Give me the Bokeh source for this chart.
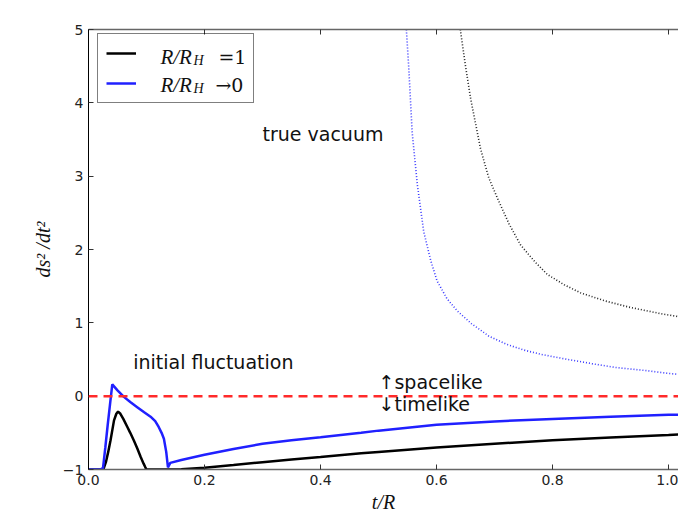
from bokeh.plotting import figure
from bokeh.models import (Range1d, LinearAxis, FixedTicker, Span, Label, Legend, LegendItem)
from bokeh.embed import file_html
from bokeh.resources import INLINE

# ---- data ----
# solid black: R/R_H = 1
t_black = [0.0, 0.020, 0.026, 0.030, 0.034, 0.038, 0.044, 0.048, 0.051, 0.055, 0.060, 0.067,
           0.072, 0.078, 0.084, 0.090, 0.095, 0.098, 0.100, 0.120, 0.140, 0.160, 0.200, 0.250,
           0.300, 0.350, 0.400, 0.470, 0.500, 0.600, 0.700, 0.800, 0.900, 1.000, 1.050]
v_black = [-1.0, -1.0, -0.99, -0.90, -0.76, -0.60, -0.33, -0.24, -0.21, -0.24, -0.31, -0.42,
           -0.50, -0.60, -0.71, -0.83, -0.92, -0.97, -1.0, -1.0, -1.0, -0.995, -0.975, -0.94,
           -0.90, -0.865, -0.83, -0.78, -0.76, -0.70, -0.65, -0.60, -0.565, -0.53, -0.51]

# solid blue: R/R_H -> 0
t_blue = [0.0, 0.020, 0.025, 0.029, 0.033, 0.037, 0.041, 0.050, 0.061, 0.072, 0.084, 0.096,
          0.107, 0.115, 0.121, 0.126, 0.130, 0.134, 0.137, 0.141, 0.160, 0.200, 0.250, 0.300,
          0.350, 0.400, 0.470, 0.500, 0.600, 0.700, 0.800, 0.900, 1.000, 1.050]
v_blue = [-1.0, -1.0, -0.98, -0.70, -0.40, -0.12, 0.16, 0.08, -0.01, -0.08, -0.15, -0.22,
          -0.28, -0.34, -0.42, -0.50, -0.58, -0.76, -0.97, -0.91, -0.87, -0.80, -0.72, -0.65,
          -0.60, -0.56, -0.50, -0.47, -0.39, -0.345, -0.31, -0.28, -0.255, -0.245]

# dotted blue (true vacuum, R/R_H -> 0)
t_blue_vac = [0.548, 0.552, 0.558, 0.567, 0.578, 0.590, 0.601, 0.618, 0.636, 0.660, 0.690,
              0.720, 0.750, 0.780, 0.820, 0.870, 0.910, 0.960, 1.000, 1.045]
v_blue_vac = [5.0, 4.5, 3.6, 2.88, 2.24, 1.85, 1.57, 1.33, 1.16, 0.99, 0.82,
              0.71, 0.63, 0.57, 0.51, 0.44, 0.39, 0.35, 0.31, 0.28]

# dotted black (true vacuum, R/R_H = 1)
t_black_vac = [0.641, 0.650, 0.659, 0.676, 0.690, 0.705, 0.725, 0.745, 0.770, 0.791, 0.820,
               0.848, 0.890, 0.934, 0.990, 1.045]
v_black_vac = [5.0, 4.5, 4.05, 3.37, 2.98, 2.70, 2.35, 2.06, 1.83, 1.66, 1.52,
               1.41, 1.30, 1.21, 1.12, 1.05]

ref_level = 0.0

x_ticks = [0.0, 0.2, 0.4, 0.6, 0.8, 1.0]
x_tick_labels = ["0.0", "0.2", "0.4", "0.6", "0.8", "1.0"]
y_ticks = [-1, 0, 1, 2, 3, 4, 5]
y_tick_labels = ["\u22121", "0", "1", "2", "3", "4", "5"]

legend_labels = [("R/R", "H", "=1"), ("R/R", "H", "\u21920")]

# ---- figure ----
p = figure(width=678, height=515, output_backend="svg", toolbar_location=None,
           x_range=Range1d(0.0, 1.0172), y_range=Range1d(-1.0, 5.0),
           min_border_left=88, min_border_right=0, min_border_top=29, min_border_bottom=43,
           background_fill_color="white", border_fill_color="white")
p.outline_line_color = None
p.xgrid.visible = False
p.ygrid.visible = False

tick_font = "DejaVu Sans"
for ax in (p.xaxis[0], p.yaxis[0]):
    ax.major_tick_in = 5
    ax.major_tick_out = 0
    ax.minor_tick_line_color = None
    ax.major_label_text_font = tick_font
    ax.major_label_text_font_size = "14px"
    ax.major_label_text_color = "#222222"
    ax.major_tick_line_color = "#333333"
    ax.axis_label_text_font = "Liberation Serif"
    ax.axis_label_text_font_style = "italic"
    ax.axis_label_text_font_size = "20px"
    ax.axis_label_text_color = "#111111"
    ax.major_label_standoff = 5

p.xaxis[0].ticker = FixedTicker(ticks=x_ticks)
p.xaxis[0].major_label_overrides = dict(zip(x_ticks, x_tick_labels))
p.yaxis[0].ticker = FixedTicker(ticks=y_ticks)
p.yaxis[0].major_label_overrides = dict(zip(y_ticks, y_tick_labels))
p.xaxis[0].axis_label = "t/R"
p.yaxis[0].axis_label = "ds\u00b2 /dt\u00b2"
p.xaxis[0].axis_label_standoff = 3
p.yaxis[0].axis_label_standoff = 6
p.xaxis[0].axis_line_color = "#666666"
p.xaxis[0].axis_line_width = 1.5
p.yaxis[0].axis_line_color = "black"
p.yaxis[0].axis_line_width = 1

top = LinearAxis(ticker=FixedTicker(ticks=x_ticks), major_tick_in=5, major_tick_out=0,
                 minor_tick_line_color=None, major_label_text_alpha=0,
                 major_label_text_font_size="1px", axis_line_color="#666666",
                 axis_line_width=1.5, major_tick_line_color="#333333",
                 major_label_standoff=0)
p.add_layout(top, "above")

# ---- lines ----
p.add_layout(Span(location=ref_level, dimension="width", line_color="#ff2a2a",
                  line_dash="9 6", line_width=2.5))
p.line(t_blue_vac, v_blue_vac, line_color="#3b3bff", line_width=1.6, line_dash="1 2")
p.line(t_black_vac, v_black_vac, line_color="#222222", line_width=1.6, line_dash="1 2")
r_black = p.line(t_black, v_black, line_color="black", line_width=2.5)
r_blue = p.line(t_blue, v_blue, line_color="#2020ff", line_width=2.5)

# ---- annotations ----
ann_font = "DejaVu Sans"
p.add_layout(Label(x=0.3, y=3.58, text="true vacuum", text_font=ann_font,
                   text_font_size="19px", text_color="#111111", text_baseline="alphabetic"))
p.add_layout(Label(x=0.077, y=0.47, text="initial fluctuation", text_font=ann_font,
                   text_font_size="19px", text_color="#111111", text_baseline="alphabetic"))
p.add_layout(Label(x=0.50, y=0.19, text="\u2191spacelike", text_font=ann_font,
                   text_font_size="19px", text_color="#111111", text_baseline="alphabetic"))
p.add_layout(Label(x=0.50, y=-0.11, text="\u2193timelike", text_font=ann_font,
                   text_font_size="19px", text_color="#111111", text_baseline="alphabetic"))

# ---- legend (box + swatches from Bokeh, math-like labels as text) ----
legend = Legend(items=[LegendItem(label=" ", renderers=[r_black]),
                       LegendItem(label=" ", renderers=[r_blue])],
                location=(9, 366), padding=8, spacing=8, glyph_width=30, glyph_height=22,
                label_height=22, label_width=89, label_standoff=20,
                border_line_color="black", border_line_width=1,
                background_fill_alpha=0.0,
                label_text_font_size="1px")
p.add_layout(legend)

leg_x = [0.124, 0.124]
leg_y = [4.63, 4.245]
tail_off = [58, 55]
for (main, sub, tail), lx, ly, toff in zip(legend_labels, leg_x, leg_y, tail_off):
    p.add_layout(Label(x=lx, y=ly, text=main, text_font="Liberation Serif",
                       text_font_style="italic", text_font_size="21px",
                       text_color="#111111", text_baseline="alphabetic"))
    p.add_layout(Label(x=lx, y=ly, x_offset=33, y_offset=-4, text=sub,
                       text_font="Liberation Serif", text_font_style="italic",
                       text_font_size="14px", text_color="#111111",
                       text_baseline="alphabetic"))
    p.add_layout(Label(x=lx, y=ly, x_offset=toff, text=tail, text_font="DejaVu Serif",
                       text_font_size="19px", text_color="#111111",
                       text_baseline="alphabetic"))

open("out.html", "w").write(file_html(p, INLINE))
